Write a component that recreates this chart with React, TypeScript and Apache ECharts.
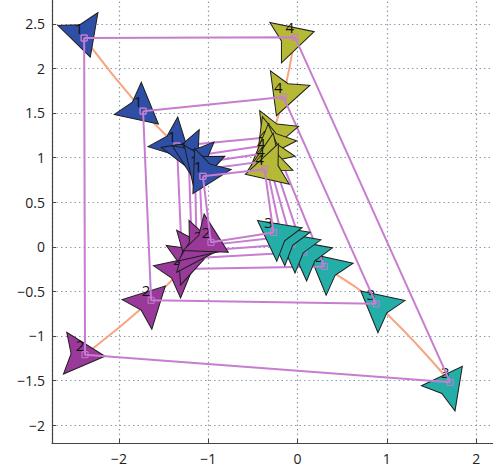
import React, { useEffect, useRef } from "react";
import * as echarts from "echarts";

// Agent labels
const agentNames = ["1", "2", "3", "4"];

// Positions of each agent at successive snapshots (data units)
const agent1Path = [[-2.39, 2.34], [-1.73, 1.52], [-1.35, 1.13], [-1.22, 1.01], [-1.15, 0.93], [-1.10, 0.86], [-1.06, 0.79]];
const agent2Path = [[-2.38, -1.21], [-1.64, -0.60], [-1.29, -0.25], [-1.18, -0.13], [-1.13, -0.05], [-1.06, 0.01], [-0.97, 0.05]];
const agent3Path = [[1.71, -1.52], [0.88, -0.64], [0.30, -0.22], [0.07, -0.06], [-0.06, 0.03], [-0.18, 0.11], [-0.27, 0.16]];
const agent4Path = [[-0.03, 2.35], [-0.16, 1.68], [-0.29, 1.23], [-0.33, 1.14], [-0.35, 1.05], [-0.36, 0.96], [-0.37, 0.87]];

// Heading of each arrow (degrees, clockwise on screen from +x)
const agent1Heading = [72, 40, 45, 65, 85, 105, 120];
const agent2Heading = [4.5, -45, -40, -20, 0, 15, 30];
const agent3Heading = [-53, 220, 220, 218, 218, 217, 217];
const agent4Heading = [-16, 110, 112, 125, 140, 152, 165];

const agentColors = ["#2f4fa6", "#993a9b", "#25aea8", "#b5b936"];

const ARROW = "path://M20,0 L-20,21 L-14,0 L-20,-21 Z";
const PURPLE = "#c77dd0";
const ORANGE = "#f8a47f";

const minus = (v: number) => (v < 0 ? "\u2212" + String(-v) : String(v));

function buildOption() {
  const paths = [agent1Path, agent2Path, agent3Path, agent4Path];
  const headings = [agent1Heading, agent2Heading, agent3Heading, agent4Heading];
  const nSteps = agent1Path.length;
  const series: any[] = [];

  paths.forEach((p) => {
    series.push({
      type: "line",
      z: 2,
      data: p,
      smooth: 0.5,
      symbol: "none",
      silent: true,
      lineStyle: { color: ORANGE, width: 2 },
    });
  });

  for (let k = 0; k < nSteps; k++) {
    series.push({
      type: "scatter",
      z: 3 + 2 * k,
      symbol: ARROW,
      symbolSize: [40, 42],
      silent: true,
      data: paths.map((p, a) => ({
        value: p[k],
        symbolRotate: -headings[a][k],
        itemStyle: { color: agentColors[a] },
      })),
      itemStyle: { borderColor: "#1e1e1e", borderWidth: 1, opacity: 1 },
      label: {
        show: true,
        position: "inside",
        offset: [-5, -10],
        formatter: (prm: any) => agentNames[prm.dataIndex],
        color: "#111",
        fontSize: 15,
        fontFamily: "Open Sans",
      },
      emphasis: { disabled: true },
    });
    series.push({
      type: "line",
      z: 4 + 2 * k,
      silent: true,
      data: [agent1Path[k], agent4Path[k], agent3Path[k], agent2Path[k], agent1Path[k]],
      symbol: "rect",
      symbolSize: 6,
      showSymbol: true,
      lineStyle: { color: PURPLE, width: 2 },
      itemStyle: { color: "rgba(0,0,0,0)", borderColor: PURPLE, borderWidth: 1 },
      emphasis: { disabled: true },
    });
  }

  const axisCommon = {
    type: "value",
    axisLine: { show: true, onZero: false, lineStyle: { color: "#444", width: 1.2 } },
    axisTick: { show: true, inside: true, length: 4, lineStyle: { color: "#444" } },
    splitLine: { show: true, lineStyle: { type: [1.5, 3], color: "#8d9db0", width: 1.2 } },
    axisLabel: {
      showMinLabel: false,
      showMaxLabel: false,
      color: "#222",
      fontSize: 14,
      fontFamily: "Open Sans",
      formatter: minus,
    },
  };

  return {
    animation: false,
    backgroundColor: "#ffffff",
    grid: { left: 52, top: -12, width: 453, height: 455, containLabel: false, outerBoundsMode: "none" },
    xAxis: {
      ...axisCommon,
      min: -2.75,
      max: 2.323,
      minInterval: 1,
      maxInterval: 1,
      axisLabel: { ...axisCommon.axisLabel, margin: 8 },
    },
    yAxis: {
      ...axisCommon,
      min: -2.2,
      max: 2.901,
      splitNumber: 10,
      minInterval: 0.5,
      maxInterval: 0.5,
      axisLabel: { ...axisCommon.axisLabel, margin: 7 },
    },
    series,
  };
}

export default function App() {
  const ref = useRef<HTMLDivElement>(null);
  useEffect(() => {
    const chart = echarts.init(ref.current!, undefined, { renderer: "svg" });
    chart.setOption(buildOption() as any);
    return () => chart.dispose();
  }, []);
  return (
    <div
      ref={ref}
      style={{ position: "fixed", left: 0, top: 0, width: 493, height: 476, background: "#fff" }}
    />
  );
}
